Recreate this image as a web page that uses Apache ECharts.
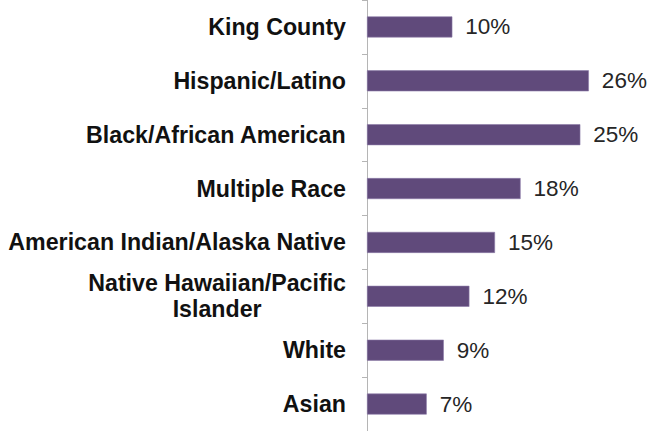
<!DOCTYPE html>
<html>
<head>
<meta charset="utf-8">
<script src="https://cdn.jsdelivr.net/npm/echarts@6/dist/echarts.min.js"></script>
<style>
  html, body { margin: 0; padding: 0; background: #fff; }
  #chart { width: 647px; height: 431px; }
</style>
</head>
<body>
<div id="chart"></div>
<script>
// categories, top to bottom
const groups = [
  'King County',
  'Hispanic/Latino',
  'Black/African American',
  'Multiple Race',
  'American Indian/Alaska Native',
  'Native Hawaiian/Pacific\nIslander',
  'White',
  'Asian'
];
// percent values
const rates = [10, 26, 25, 18, 15, 12, 9, 7];

const chart = echarts.init(document.getElementById('chart'), null, { renderer: 'svg' });

chart.setOption({
  animation: false,
  grid: { left: 367, right: 24, top: -2, bottom: -2 },
  xAxis: {
    type: 'value',
    min: 0,
    max: 30,
    show: false
  },
  yAxis: {
    type: 'category',
    data: groups,
    inverse: true,
    axisLine: { show: true, lineStyle: { color: '#b5b5b5', width: 1 } },
    axisTick: { show: true, length: 5, lineStyle: { color: '#b5b5b5' } },
    axisLabel: {
      margin: 21,
      formatter: (v) => '{c|' + v + '}',
      rich: {
        c: {
          fontFamily: '"Liberation Sans", Arial, sans-serif',
          fontWeight: 'bold',
          fontSize: 23.2,
          lineHeight: 26,
          color: '#111',
          align: 'center'
        }
      }
    }
  },
  series: [{
    type: 'bar',
    data: rates,
    barWidth: 21,
    itemStyle: { color: '#604A7B', borderColor: '#8C7BA8', borderWidth: 0.6 },
    label: {
      show: true,
      position: 'right',
      distance: 13,
      formatter: '{c}%',
      fontFamily: '"Liberation Sans", Arial, sans-serif',
      fontSize: 22.5,
      color: '#262626'
    }
  }]
});
</script>
</body>
</html>
